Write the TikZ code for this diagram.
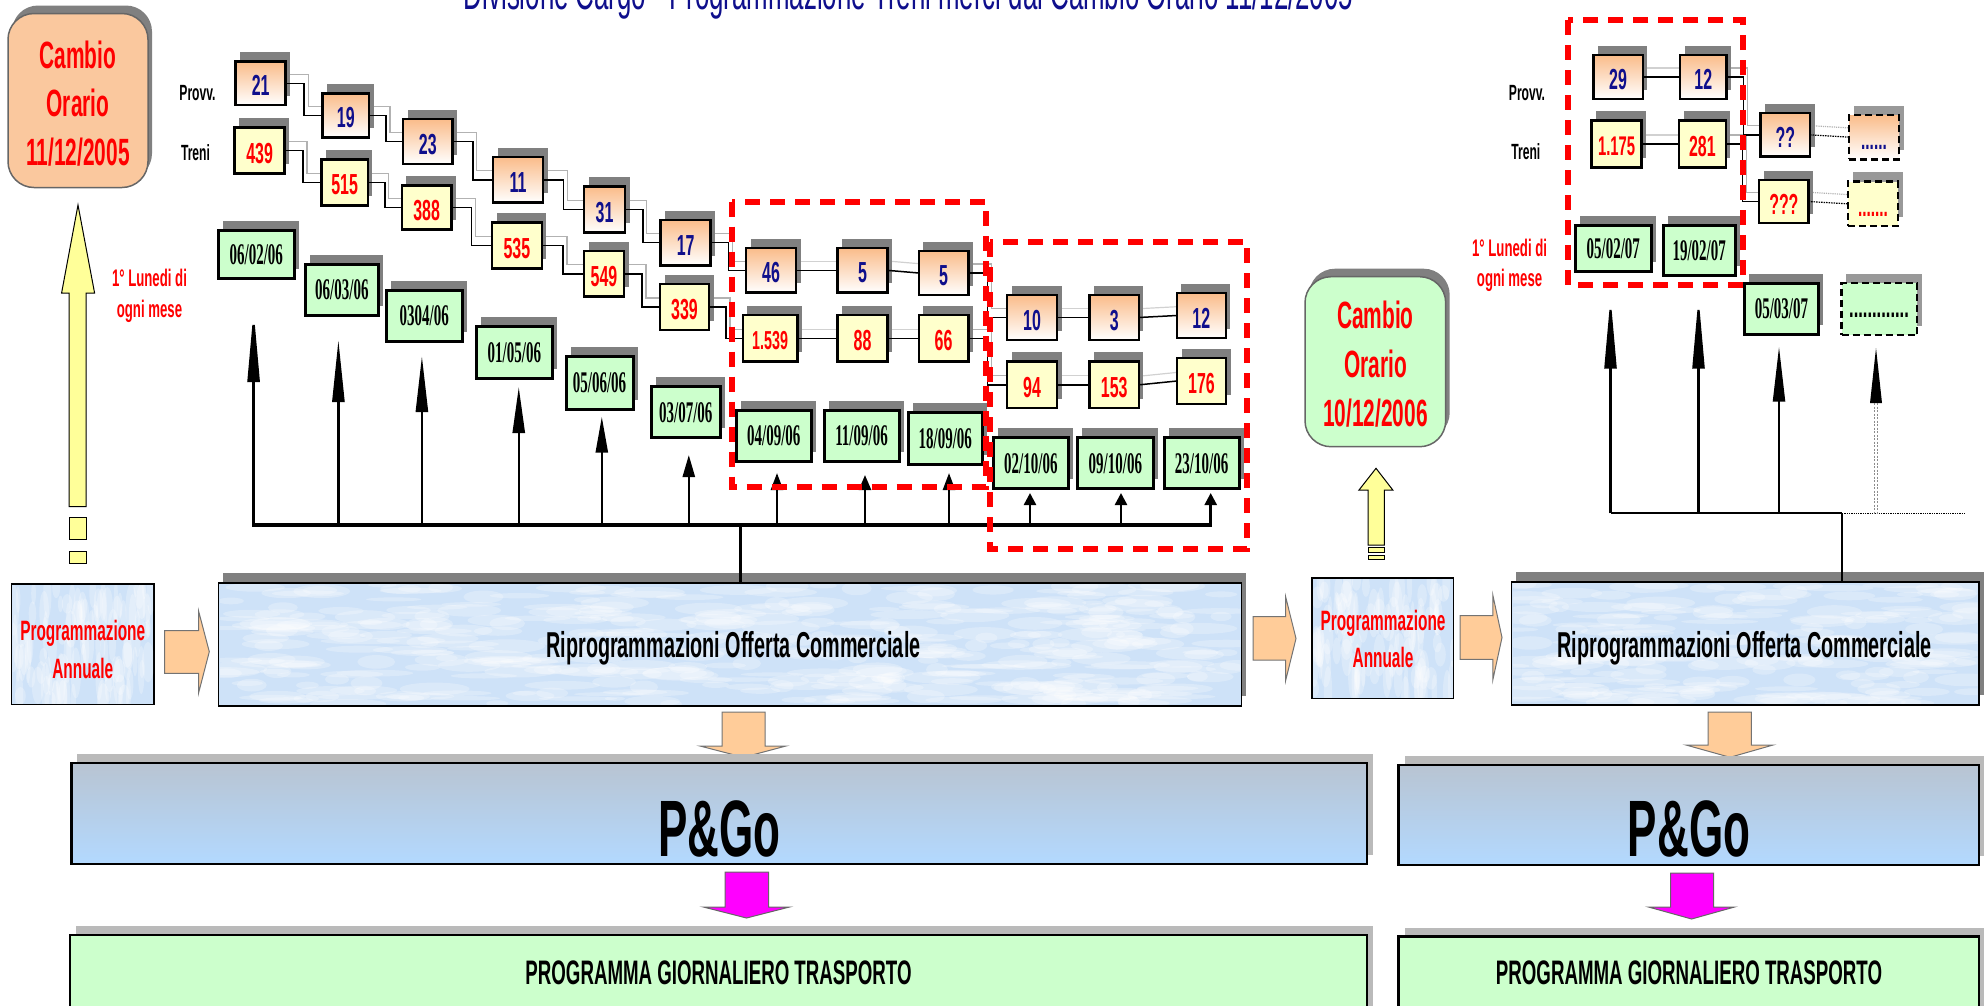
\documentclass[tikz,border=0pt]{standalone}
\usepackage{fontspec}
\usetikzlibrary{shadows,arrows.meta,calc,backgrounds}
\newfontfamily\ns[FakeStretch=0.55]{Liberation Sans}
\newfontfamily\ts[FakeStretch=0.5]{Liberation Serif}
\definecolor{navy}{RGB}{15,15,140}
\definecolor{peach}{RGB}{250,188,138}
\definecolor{cambioor}{RGB}{250,200,158}
\definecolor{lgreen}{RGB}{204,255,204}
\definecolor{lyellow}{RGB}{255,255,204}
\definecolor{ayellow}{RGB}{255,255,153}
\definecolor{aorange}{RGB}{255,204,153}
\definecolor{sblue}{RGB}{206,226,248}
\definecolor{pgtop}{RGB}{184,196,210}
\definecolor{pgbot}{RGB}{179,217,255}
\definecolor{shgray}{RGB}{128,128,128}
\definecolor{magen}{RGB}{255,0,255}

\tikzset{
  bxbase/.style={inner sep=0pt, outer sep=0pt, line width=2.5pt, draw=black},
  shd/.style={drop shadow={shadow xshift=4.5pt, shadow yshift=9.5pt, fill=shgray, opacity=1}},
  numf/.style={font=\ns\bfseries\fontsize{29}{31}\selectfont, text height=25pt, text depth=0pt},
  provbox/.style={bxbase, shd, top color=peach, bottom color=white, text=navy, numf},
  trenbox/.style={bxbase, shd, fill=lyellow, text=red, numf},
  datebox/.style={bxbase, line width=3pt, shd, fill=lgreen, font=\ts\bfseries\fontsize{30}{32}\selectfont, text height=20pt, text depth=0pt},
  dashbox/.style={bxbase, dash pattern=on 7pt off 4pt, drop shadow={shadow xshift=4.5pt, shadow yshift=9.5pt, fill=black!40, opacity=1}},
  dprov/.style={dashbox, top color=peach, bottom color=white},
  dtren/.style={dashbox, fill=lyellow},
  ddate/.style={dashbox, fill=lgreen},
  conn/.style={line width=1.5pt, draw=black},
  gconn/.style={line width=1.2pt, draw=black!30},
  elb/.style={to path={(\tikztostart) -| ($(\tikztostart)!0.5!(\tikztotarget)$) |- (\tikztotarget)}},
  lbl/.style={inner sep=0pt, outer sep=0pt, anchor=base},
  redt/.style={lbl, text=red, font=\ns\bfseries\fontsize{24}{26}\selectfont},
  camt/.style={lbl, text=red, font=\ns\bfseries\fontsize{38}{40}\selectfont},
  labt/.style={lbl, text=black, font=\ns\bfseries\fontsize{22}{24}\selectfont},
  pat/.style={lbl, text=red, font=\ns\bfseries\fontsize{28}{30}\selectfont},
  ript/.style={lbl, text=black, font=\ns\bfseries\fontsize{36}{40}\selectfont},
  pgot/.style={lbl, text=black, font=\ns\bfseries\fontsize{80}{84}\selectfont},
  pgtt/.style={lbl, text=black, font=\ns\bfseries\fontsize{34}{36}\selectfont},
  cambio/.style={inner sep=0pt, rounded corners=26pt, draw=black!60, line width=1.5pt, drop shadow={shadow xshift=4pt, shadow yshift=8pt, fill=shgray, opacity=1}},
  ripro/.style={inner sep=0pt, draw=black, line width=1.5pt, fill=sblue, drop shadow={shadow xshift=4.5pt, shadow yshift=10pt, fill=shgray, opacity=1}},
  pabox/.style={inner sep=0pt, draw=black, line width=1.2pt, fill=sblue},
  pgo/.style={inner sep=0pt, draw=black, line width=2.5pt, top color=pgtop, bottom color=pgbot, drop shadow={shadow xshift=6pt, shadow yshift=9pt, fill=black!27, opacity=1}},
  pgt/.style={inner sep=0pt, draw=black, line width=2.5pt, fill=lgreen, drop shadow={shadow xshift=6pt, shadow yshift=9pt, fill=black!27, opacity=1}},
  reddash/.style={draw=red, line width=6pt, dash pattern=on 15pt off 10pt},
  barr/.style={line width=2.5pt, draw=black},
  yarr/.style={fill=ayellow, draw=black, line width=1pt},
  oarr/.style={fill=aorange, draw=black!55, line width=1pt},
  marr/.style={fill=magen, draw=black!60, line width=1pt}
}

\newcommand\mkbox[7]{%
  \pgfmathsetmacro\bxw{#5-#3}%
  \pgfmathsetmacro\bxh{#6-#4}%
  \pgfmathsetmacro\bxx{(#3+#5)/2}%
  \pgfmathsetmacro\bxy{(#4+#6)/2}%
  \node[#1, minimum width=\bxw pt, minimum height=\bxh pt] (#2) at (\bxx,\bxy) {#7};}

\newcommand\wtex[6]{%
  \begin{scope}
  \clip (#1,#2) rectangle (#3,#4);
  \foreach \i in {1,...,#5}{%
    \pgfmathsetmacro\xx{#1+rnd*(#3-#1)}%
    \pgfmathsetmacro\yy{#2+rnd*(#4-#2)}%
    \pgfmathsetmacro\rx{#6==1 ? 2+rnd*4 : 10+rnd*30}%
    \pgfmathsetmacro\ry{#6==1 ? 8+rnd*18 : 2+rnd*5}%
    \fill[white,opacity=0.25] (\xx,\yy) ellipse [x radius=\rx, y radius=\ry];
  }%
  \end{scope}}

\begin{document}
\begin{tikzpicture}[x=1pt,y=-1pt]
\pgfmathsetseed{12}
\useasboundingbox (0,0) rectangle (1984,1005);

% title (cut at top, as in the reference)
\node[lbl, text=navy, font=\ns\fontsize{47}{50}\selectfont] (title) at (908.6,9.3) {Divisione Cargo - Programmazione Treni merci dal Cambio Orario 11/12/2005};

% Cambio boxes
\node[cambio, fill=cambioor, minimum width=140pt, minimum height=174pt] (cam1) at (78,100.5) {};
\node[camt] (cam1a) at (78,68.3) {Cambio};
\node[camt] (cam1b) at (78,116.7) {Orario};
\node[camt] (cam1c) at (78,165.7) {11/12/2005};
\node[cambio, fill=lgreen, minimum width=140.7pt, minimum height=170pt] (cam2) at (1375.35,361.7) {};
\node[camt] (cam2a) at (1375.4,328.3) {Cambio};
\node[camt] (cam2b) at (1375.4,377.7) {Orario};
\node[camt] (cam2c) at (1375.4,426.7) {10/12/2006};

% labels
\node[labt] (lp1) at (197.5,100.7) {Provv.};
\node[labt] (lt1) at (195.5,160.7) {Treni};
\node[labt] (lp2) at (1527,100) {Provv.};
\node[labt] (lt2) at (1525.8,159) {Treni};
\node[redt] (lm1) at (149.5,286) {1° Lunedi di};
\node[redt] (lm2) at (149.5,317.7) {ogni mese};
\node[redt] (lm3) at (1509.6,256.7) {1° Lunedi di};
\node[redt] (lm4) at (1509.6,286.7) {ogni mese};

% Provv boxes
\mkbox{provbox}{p1}{235.7}{61.7}{285.7}{105}{21}
\mkbox{provbox}{p2}{322.5}{93.3}{369}{137.3}{19}
\mkbox{provbox}{p3}{403}{119}{452.5}{164}{23}
\mkbox{provbox}{p4}{493}{157}{543}{202.7}{11}
\mkbox{provbox}{p5}{584}{186.7}{625}{232.7}{31}
\mkbox{provbox}{p6}{660.7}{220}{710.7}{265.3}{17}
\mkbox{provbox}{p7}{746}{248}{796}{292.7}{46}
\mkbox{provbox}{p8}{837.5}{248}{887.5}{292.7}{5}
\mkbox{provbox}{p9}{918.8}{251}{968.3}{295}{5}
\mkbox{provbox}{p10}{1007}{295}{1057}{340}{10}
\mkbox{provbox}{p11}{1089.7}{295}{1138.8}{340}{3}
\mkbox{provbox}{p12}{1176.8}{293}{1225.9}{338}{12}
\mkbox{provbox}{p13}{1593.4}{55}{1642.8}{99}{29}
\mkbox{provbox}{p14}{1680}{55}{1726.6}{99}{12}
\mkbox{provbox}{p15}{1760.7}{113}{1810}{156.7}{??}
\mkbox{dprov}{p16}{1849}{115}{1899}{159.3}{}
\node[lbl, text=navy, font=\ns\bfseries\fontsize{28}{30}\selectfont] (p16t) at (1874,149) {......};

% Treni boxes
\mkbox{trenbox}{t1}{234.6}{127.7}{284.6}{173.3}{439}
\mkbox{trenbox}{t2}{321.4}{159.3}{367.9}{205.3}{515}
\mkbox{trenbox}{t3}{401.8}{185.7}{451.4}{229.3}{388}
\mkbox{trenbox}{t4}{492}{222.7}{541.8}{268.3}{535}
\mkbox{trenbox}{t5}{584}{251}{624}{296.7}{549}
\mkbox{trenbox}{t6}{660}{284}{709}{330}{339}
\mkbox{trenbox,font={\ns\bfseries\fontsize{26}{28}\selectfont},text height=22.4pt}{t7}{742.9}{315}{797.3}{361.7}{1.539}
\mkbox{trenbox}{t8}{837.5}{315}{887.5}{361.7}{88}
\mkbox{trenbox}{t9}{918.8}{315}{968.3}{361.7}{66}
\mkbox{trenbox}{t10}{1007}{361.7}{1057}{408}{94}
\mkbox{trenbox}{t11}{1089.7}{361.7}{1138.8}{408}{153}
\mkbox{trenbox}{t12}{1177}{358}{1226}{404}{176}
\mkbox{trenbox,font={\ns\bfseries\fontsize{27}{29}\selectfont},text height=23.2pt}{t13}{1591.7}{120.7}{1641.5}{167.3}{1.175}
\mkbox{trenbox}{t14}{1679}{120.7}{1725.8}{167.3}{281}
\mkbox{trenbox}{t15}{1759}{180}{1808.7}{223}{???}
\mkbox{dtren}{t16}{1848}{181.7}{1898}{226}{}
\node[lbl, text=red, font=\ns\bfseries\fontsize{28}{30}\selectfont] (t16t) at (1873,216.5) {.......};

% date boxes
\mkbox{datebox}{d1}{218}{230.7}{294.6}{278.3}{06/02/06}
\mkbox{datebox}{d2}{305.8}{264}{378}{315}{06/03/06}
\mkbox{datebox}{d3}{386.6}{290}{462}{341.7}{0304/06}
\mkbox{datebox}{d4}{476.8}{326}{552}{378}{01/05/06}
\mkbox{datebox}{d5}{566}{356.7}{633}{409}{05/06/06}
\mkbox{datebox}{d6}{651}{386.5}{720.5}{437.5}{03/07/06}
\mkbox{datebox}{d7}{736}{410}{811.6}{461.7}{04/09/06}
\mkbox{datebox}{d8}{824}{410}{899}{461.7}{11/09/06}
\mkbox{datebox}{d9}{908}{412.7}{982.6}{464}{18/09/06}
\mkbox{datebox}{d10}{993}{437.7}{1068.8}{488.3}{02/10/06}
\mkbox{datebox}{d11}{1077.7}{437.7}{1153}{488.3}{09/10/06}
\mkbox{datebox}{d12}{1164.3}{437.7}{1239}{488.3}{23/10/06}
\mkbox{datebox}{d13}{1575}{225}{1651.5}{271.7}{05/02/07}
\mkbox{datebox}{d14}{1663}{225}{1735.4}{275}{19/02/07}
\mkbox{datebox}{d15}{1744}{283}{1818.8}{334}{05/03/07}
\mkbox{ddate}{d16}{1841.5}{283}{1917}{335}{}
\node[lbl, text=black, font=\ns\bfseries\fontsize{30}{32}\selectfont] (d16t) at (1879,317.5) {.............};

% connector shadows
\begin{scope}[on background layer]
\begin{scope}[transform canvas={xshift=4pt,yshift=9pt}]
  \foreach \a/\b in {p1/p2,p2/p3,p3/p4,p4/p5,p5/p6,p6/p7,p9/p10,p14/p15,t1/t2,t2/t3,t3/t4,t4/t5,t5/t6,t6/t7,t9/t10,t14/t15}
    \draw[gconn] (\a.east) to[elb] (\b.west);
  \foreach \a/\b in {p7/p8,p8/p9,p10/p11,p11/p12,p13/p14,t7/t8,t8/t9,t10/t11,t11/t12,t13/t14}
    \draw[gconn, draw=black!18] (\a.east) -- (\b.west);
  \draw[gconn, densely dotted] (p15.east) -- (p16.west);
  \draw[gconn, densely dotted] (t15.east) -- (t16.west);
\end{scope}
\end{scope}

% connectors
\foreach \a/\b in {p1/p2,p2/p3,p3/p4,p4/p5,p5/p6,p6/p7,p9/p10,p14/p15,t1/t2,t2/t3,t3/t4,t4/t5,t5/t6,t6/t7,t9/t10,t14/t15}
  \draw[conn] (\a.east) to[elb] (\b.west);
\foreach \a/\b in {p7/p8,p8/p9,p10/p11,p11/p12,p13/p14,t7/t8,t8/t9,t10/t11,t11/t12,t13/t14}
  \draw[conn] (\a.east) -- (\b.west);
\draw[conn] (t14.east) to[elb] (p15.west);
\draw[conn, densely dotted, line width=1.2pt] (p15.east) -- (p16.west);
\draw[conn, densely dotted, line width=1.2pt] (t15.east) -- (t16.west);

% left bus and arrows
\coordinate (bus1) at (0,525);
\foreach \n/\x/\t/\l in {1/253.6/310/72,2/338.4/340/62,3/421.9/356/56,4/518.75/387/46,5/601.8/416.7/36,6/688.8/455/22,7/777/473/17,8/865/475/15,9/949/473/17,10/1030/493/12,11/1121/493/12,12/1210.7/493/12}{
  \coordinate (at\n) at (\x,\t);
  \draw[barr, -{Triangle[length=\l pt, width=12pt]}] (at\n |- bus1) -- (at\n);
}
\draw[line width=3.5pt, line cap=rect] (at1 |- bus1) -- (at12 |- bus1);
\coordinate (j1) at (740.6,525);

% right bus and arrows
\coordinate (bus2) at (0,513.3);
\foreach \n/\x/\t/\l in {13/1610.5/296.7/72,14/1698.5/296.7/72,15/1779/346.7/55}{
  \coordinate (at\n) at (\x,\t);
  \draw[line width=2.2pt, -{Triangle[length=\l pt, width=12pt]}] (at\n |- bus2) -- (at\n);
}
\coordinate (j2) at (1842,513.3);
\coordinate (bus2end) at (1966,513.3);
\draw[line width=2pt] (at13 |- bus2) -- (j2);
\draw[line width=1.3pt, densely dotted] (j2) -- (bus2end);
\coordinate (at16) at (1876,348);
\fill (at16) -- (1870,403) -- (1882,403) -- cycle;
\draw[black!45, line width=1pt, dash pattern=on 2pt off 1.5pt] (1874.3,403) -- (1874.3,514);
\draw[black!45, line width=1pt, dash pattern=on 2pt off 1.5pt] (1877.7,403) -- (1877.7,514);

% yellow arrows
\draw[yarr] (78,205) -- (94.6,293) -- (86,293) -- (86,506.7) -- (69,506.7) -- (69,293) -- (61.6,293) -- cycle;
\draw[yarr] (69,517.3) rectangle (86,539.3);
\draw[yarr] (69,551) rectangle (86,563.3);
\draw[yarr] (1376,468.3) -- (1392.8,490) -- (1384.4,490) -- (1384.4,545) -- (1368,545) -- (1368,490) -- (1359,490) -- cycle;
\draw[yarr] (1368,547.7) rectangle (1384.4,552.3);
\draw[yarr] (1368,555) rectangle (1384.4,559.3);

% programmazione annuale boxes
\node[pabox, minimum width=142.5pt, minimum height=120.3pt] (pa1) at (82.75,644.15) {};
\wtex{12.5}{585}{153}{703.3}{110}{1}
\node[pabox, minimum width=141.8pt, minimum height=120.3pt] (pa2) at (1382.9,638.15) {};
\wtex{1313}{579}{1452.8}{697.3}{110}{1}
\node[pat] (pa1a) at (82.75,640) {Programmazione};
\node[pat] (pa1b) at (82.75,678.3) {Annuale};
\node[pat] (pa2a) at (1383,630) {Programmazione};
\node[pat] (pa2b) at (1383,667.3) {Annuale};

% Riprogrammazioni boxes
\node[ripro, minimum width=1023pt, minimum height=123pt] (r1) at (730.2,644.5) {};
\wtex{220}{584.5}{1240.5}{704.5}{420}{0}
\node[ripro, minimum width=467.4pt, minimum height=123pt] (r2) at (1745.3,643.5) {};
\wtex{1513}{583.5}{1977.5}{703.5}{200}{0}
\node[ript] (r1t) at (733.5,657) {Riprogrammazioni Offerta Commerciale};
\node[ript] (r2t) at (1744.5,657) {Riprogrammazioni Offerta Commerciale};
\draw[line width=2.5pt] (j1) -- (j1 |- r1.north);
\draw[line width=2pt] (j2) -- (j2 |- r2.north);

% orange block arrows
\draw[oarr] (164.5,630.7) -- (198.5,630.7) -- (198.5,610.7) -- (209.3,651.7) -- (198.5,693.3) -- (198.5,673.3) -- (164.5,673.3) -- cycle;
\draw[oarr] (1253,616.7) -- (1285.6,616.7) -- (1285.6,596.7) -- (1296,638.5) -- (1285.6,680.7) -- (1285.6,660) -- (1253,660) -- cycle;
\draw[oarr] (1460,615.7) -- (1492.8,615.7) -- (1492.8,595) -- (1502,637.5) -- (1492.8,680) -- (1492.8,659.3) -- (1460,659.3) -- cycle;
\draw[oarr] (722,712) -- (765,712) -- (765,746) -- (786,746) -- (743.5,757.3) -- (700,746) -- (722,746) -- cycle;
\draw[oarr] (1708,712) -- (1751.4,712) -- (1751.4,745) -- (1773,745) -- (1730,757.3) -- (1686,745) -- (1708,745) -- cycle;

% P&Go boxes
\node[pgo, minimum width=1295.6pt, minimum height=101pt] (pg1) at (719.2,813.5) {};
\node[pgo, minimum width=580.4pt, minimum height=100pt] (pg2) at (1688.8,815) {};
\node[pgot] (pg1t) at (719.4,856) {P\&Go};
\node[pgot] (pg2t) at (1689,856.7) {P\&Go};

% magenta arrows
\draw[marr] (725,872) -- (768.5,872) -- (768.5,907) -- (789.5,907) -- (746.5,918) -- (703.4,907) -- (725,907) -- cycle;
\draw[marr] (1670.5,873) -- (1713.7,873) -- (1713.7,907) -- (1734.5,907) -- (1691.6,919) -- (1648.5,907) -- (1670.5,907) -- cycle;

% programma giornaliero boxes
\node[pgt, minimum width=1297pt, minimum height=82pt] (pgt1) at (718.5,976) {};
\node[pgt, minimum width=580.4pt, minimum height=80pt] (pgt2) at (1688.8,976.7) {};
\node[pgtt] (pgt1t) at (718.5,984) {PROGRAMMA GIORNALIERO TRASPORTO};
\node[pgtt] (pgt2t) at (1689,984) {PROGRAMMA GIORNALIERO TRASPORTO};

% red dashed groups
\draw[reddash] (731.7,201.7) rectangle (985.7,486.7);
\draw[reddash] (990,242) rectangle (1247,549);
\draw[reddash] (1568.3,20) rectangle (1743.3,285);
\end{tikzpicture}
\end{document}
